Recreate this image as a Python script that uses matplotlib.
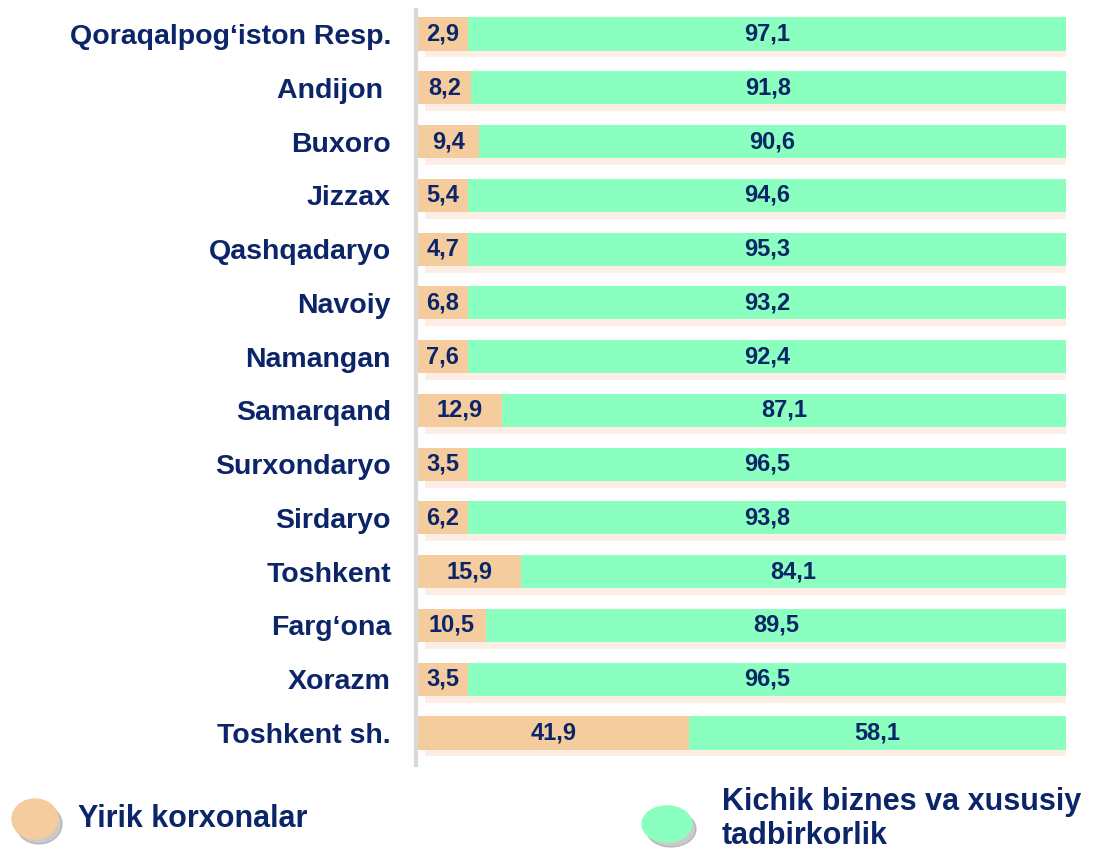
import numpy as np
import matplotlib.pyplot as plt
from matplotlib import patheffects
from matplotlib.patches import Ellipse

regions = ["Qoraqalpog‘iston Resp.", "Andijon ", "Buxoro", "Jizzax", "Qashqadaryo",
           "Navoiy", "Namangan", "Samarqand", "Surxondaryo", "Sirdaryo",
           "Toshkent", "Farg‘ona", "Xorazm", "Toshkent sh."]
large = [2.9, 8.2, 9.4, 5.4, 4.7, 6.8, 7.6, 12.9, 3.5, 6.2, 15.9, 10.5, 3.5, 41.9]
small = [97.1, 91.8, 90.6, 94.6, 95.3, 93.2, 92.4, 87.1, 96.5, 93.8, 84.1, 89.5, 96.5, 58.1]
legend_labels = ["Yirik korxonalar", "Kichik biznes va xususiy\ntadbirkorlik"]

PEACH = "#F4CC9E"
GREEN = "#8AFFBF"
NAVY = "#0C2568"
# as in the source slide, narrow left segments get room for their label
MIN_SEG = 7.7

plt.rcParams["font.family"] = ["Liberation Sans", "DejaVu Sans"]

fig = plt.figure(figsize=(11.03, 8.49), dpi=100)
ax = fig.add_axes([416 / 1103, 84 / 849, 650 / 1103, 755 / 849])

y = np.arange(len(regions))
left_w = np.maximum(np.array(large), MIN_SEG)
right_w = 100 - left_w

shadow = [patheffects.SimplePatchShadow(offset=(5, -5), shadow_rgbFace="#F6C9A8", alpha=0.3),
          patheffects.Normal()]
b1 = ax.barh(y, left_w, height=0.615, color=PEACH, zorder=2)
b2 = ax.barh(y, right_w, left=left_w, height=0.615, color=GREEN, zorder=2)
for bar in list(b1) + list(b2):
    bar.set_path_effects(shadow)

for yi, lw_, a, b in zip(y, left_w, large, small):
    ax.text(lw_ / 2, yi, f"{a:.1f}".replace(".", ","), ha="center", va="center",
            fontsize=17, fontweight="bold", color=NAVY, zorder=3)
    ax.text(lw_ + (100 - lw_) / 2, yi, f"{b:.1f}".replace(".", ","), ha="center",
            va="center", fontsize=17, fontweight="bold", color=NAVY, zorder=3)

ax.set_xlim(-0.3, 100)
ax.set_ylim(13.595, -0.446)
ax.set_yticks(y)
ax.set_yticklabels(regions, fontsize=20.5, fontweight="bold", color=NAVY)
ax.tick_params(axis="y", length=0, pad=18)
ax.set_xticks([])
for side in ("top", "right", "bottom"):
    ax.spines[side].set_visible(False)
ax.spines["left"].set_color("#D9D9D9")
ax.spines["left"].set_linewidth(3)

# legend drawn in pixel coordinates
lax = fig.add_axes([0, 0, 1, 1], zorder=-1)
lax.set_xlim(0, 1103)
lax.set_ylim(849, 0)
lax.axis("off")
for (cx, cy, w, h), col in zip([(35, 819, 46, 40), (667, 824, 50, 36)], [PEACH, GREEN]):
    lax.add_patch(Ellipse((cx + 4, cy + 5), w, h, color="#8A8A8A", alpha=0.45))
    lax.add_patch(Ellipse((cx, cy), w, h, color=col))
lax.text(78, 819, legend_labels[0], fontsize=22, fontweight="bold", color=NAVY,
         va="center", ha="left")
lax.text(722, 819, legend_labels[1], fontsize=22, fontweight="bold", color=NAVY,
         va="center", ha="left", linespacing=1.15)

fig.savefig("out.png", dpi=100)
